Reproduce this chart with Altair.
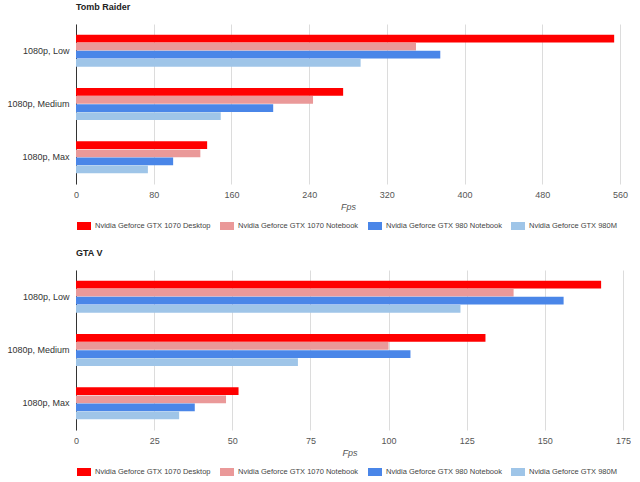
import altair as alt
import pandas as pd

settings = ["1080p, Low", "1080p, Medium", "1080p, Max"]
gpus = [
    "Nvidia Geforce GTX 1070 Desktop",
    "Nvidia Geforce GTX 1070 Notebook",
    "Nvidia Geforce GTX 980 Notebook",
    "Nvidia Geforce GTX 980M",
]
colors = ["#ff0000", "#ea9999", "#4a86e8", "#9fc5e8"]

# Tomb Raider fps (Low, Medium, Max)
tomb_1070_desktop = [554, 275, 135]
tomb_1070_notebook = [350, 244, 128]
tomb_980_notebook = [375, 203, 100]
tomb_980m = [293, 149, 74]

# GTA V fps (Low, Medium, Max)
gta_1070_desktop = [168, 131, 52]
gta_1070_notebook = [140, 100, 48]
gta_980_notebook = [156, 107, 38]
gta_980m = [123, 71, 33]

tomb_ticks = [0, 80, 160, 240, 320, 400, 480, 560]
gta_ticks = [0, 25, 50, 75, 100, 125, 150, 175]

FONT = "Liberation Sans"


def build(series):
    rows = []
    for gpu, vals in zip(gpus, series):
        for s, v in zip(settings, vals):
            rows.append({"setting": s, "gpu": gpu, "fps": v})
    return pd.DataFrame(rows)


def panel(df, title, ticks, width, height):
    return (
        alt.Chart(df, title=alt.Title(title, anchor="start", frame="group",
                                       fontSize=9, fontWeight="bold", font=FONT,
                                       color="#222", offset=12))
        .mark_bar()
        .encode(
            y=alt.Y("setting:N", sort=settings,
                    scale=alt.Scale(paddingInner=0.4, paddingOuter=0.2),
                    axis=alt.Axis(title=None, ticks=False, domain=True,
                                  domainColor="#333", domainWidth=1,
                                  labelFontSize=9, labelColor="#333",
                                  labelFont=FONT, labelPadding=7,
                                  minExtent=70, maxExtent=70)),
            yOffset=alt.YOffset("gpu:N", sort=gpus,
                                scale=alt.Scale(paddingInner=0.04)),
            x=alt.X("fps:Q",
                    scale=alt.Scale(domain=[ticks[0], ticks[-1]], nice=False),
                    axis=alt.Axis(values=ticks, title="Fps", titleFontStyle="italic",
                                  titleFontWeight="normal", titleFontSize=9,
                                  titleColor="#555", titleFont=FONT, titlePadding=3,
                                  labelFontSize=9, labelColor="#555", labelFont=FONT,
                                  labelPadding=6, labelFlush=False, ticks=False,
                                  domain=False, grid=True, gridColor="#dcdcdc")),
            color=alt.Color("gpu:N", sort=gpus,
                            scale=alt.Scale(domain=gpus, range=colors),
                            legend=alt.Legend(title=None, orient="none",
                                              legendX=0, legendY=height + 34,
                                              direction="horizontal", columns=4,
                                              symbolType="M-0.875,-0.5H0.875V0.5H-0.875Z",
                                              symbolSize=256, symbolStrokeWidth=0,
                                              labelFontSize=7.5, labelColor="#444",
                                              labelFont=FONT, labelOffset=3,
                                              columnPadding=8)),
        )
        .properties(width=width, height=height)
    )


tomb = panel(build([tomb_1070_desktop, tomb_1070_notebook, tomb_980_notebook, tomb_980m]),
             "Tomb Raider", tomb_ticks, 544, 160)
gta = panel(build([gta_1070_desktop, gta_1070_notebook, gta_980_notebook, gta_980m]),
            "GTA V", gta_ticks, 547, 160)

chart = (
    alt.vconcat(tomb, gta, spacing=19)
    .resolve_scale(color="independent")
    .properties(padding={"left": 6, "top": 3, "right": 0, "bottom": 0})
    .configure(background="white")
    .configure_view(stroke="transparent", strokeWidth=0)
)

chart.save("out.html", embed_options={"renderer": "svg", "actions": False})
